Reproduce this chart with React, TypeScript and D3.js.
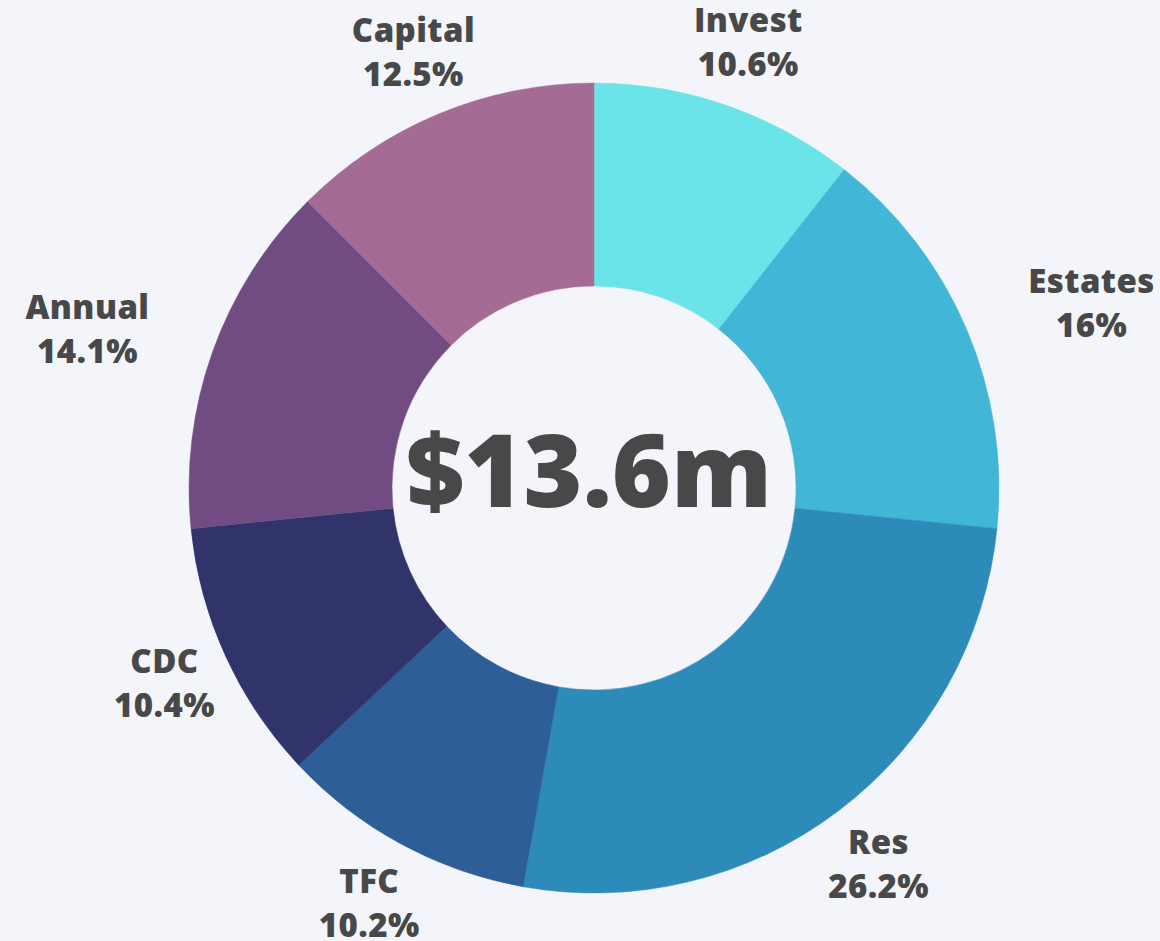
import React from "react";
import * as d3 from "d3";

const categories = ["Invest", "Estates", "Res", "TFC", "CDC", "Annual", "Capital"];
const values = [10.6, 16, 26.2, 10.2, 10.4, 14.1, 12.5];
const colors = ["#6ae4e8", "#42b6d6", "#2d8bb9", "#2e5e97", "#30346b", "#714c83", "#a46c94"];
const centerLabel = "$13.6m";

const W = 1160;
const H = 941;
const cx = 594;
const cy = 488;
const outerR = 405;
const innerR = 202;
const labelR = 472;
const FONT = "'Open Sans', 'DejaVu Sans', sans-serif";
const TEXT = "#484848";
const LABEL_SIZE = 33;
const LETTER = 0.4;

function measure(text: string): number {
  if (typeof document === "undefined") return text.length * LABEL_SIZE * 0.6;
  const c = document.createElement("canvas");
  const ctx = c.getContext("2d");
  if (!ctx) return text.length * LABEL_SIZE * 0.6;
  ctx.font = `800 ${LABEL_SIZE}px 'Open Sans', 'DejaVu Sans', sans-serif`;
  return ctx.measureText(text).width + LETTER * text.length;
}

export default function App() {
  const pie = d3.pie<number>().sort(null).value((d) => d);
  const arcs = pie(values);
  const arc = d3.arc<d3.PieArcDatum<number>>().innerRadius(innerR).outerRadius(outerR);

  return (
    <svg width={W} height={H} style={{ position: "absolute", left: 0, top: 0, background: "#f4f5fa" }}>
      <rect x={0} y={0} width={W} height={H} fill="#f4f5fa" />
      <g transform={`translate(${cx},${cy})`}>
        {arcs.map((a, i) => (
          <path key={categories[i]} d={arc(a) || ""} fill={colors[i]} stroke={colors[i]} strokeWidth={0.5} />
        ))}
        {arcs.map((a, i) => {
          const mid = (a.startAngle + a.endAngle) / 2;
          const sx = Math.sin(mid);
          const sy = -Math.cos(mid);
          let x = labelR * sx;
          const y = labelR * sy;
          const fromHoriz = (Math.asin(Math.min(1, Math.abs(sy))) * 180) / Math.PI;
          const line1 = categories[i];
          const line2 = `${values[i]}%`;
          if (fromHoriz < 24) {
            const w = Math.max(measure(line1), measure(line2));
            x = sx > 0 ? x + w / 2 : x - w / 2;
          }
          return (
            <text
              key={"l" + categories[i]}
              x={x}
              y={y}
              textAnchor="middle"
              fontFamily={FONT}
              fontWeight={800}
              fontSize={LABEL_SIZE}
              letterSpacing={LETTER}
              fill={TEXT}
            >
              <tspan x={x} y={y - 22} dy="0.36em">{line1}</tspan>
              <tspan x={x} y={y + 22} dy="0.36em">{line2}</tspan>
            </text>
          );
        })}
        <text
          x={-5}
          y={-17}
          dy="0.36em"
          textAnchor="middle"
          fontFamily={FONT}
          fontWeight={800}
          fontSize={101}
          fill={TEXT}
        >
          {centerLabel}
        </text>
      </g>
    </svg>
  );
}
